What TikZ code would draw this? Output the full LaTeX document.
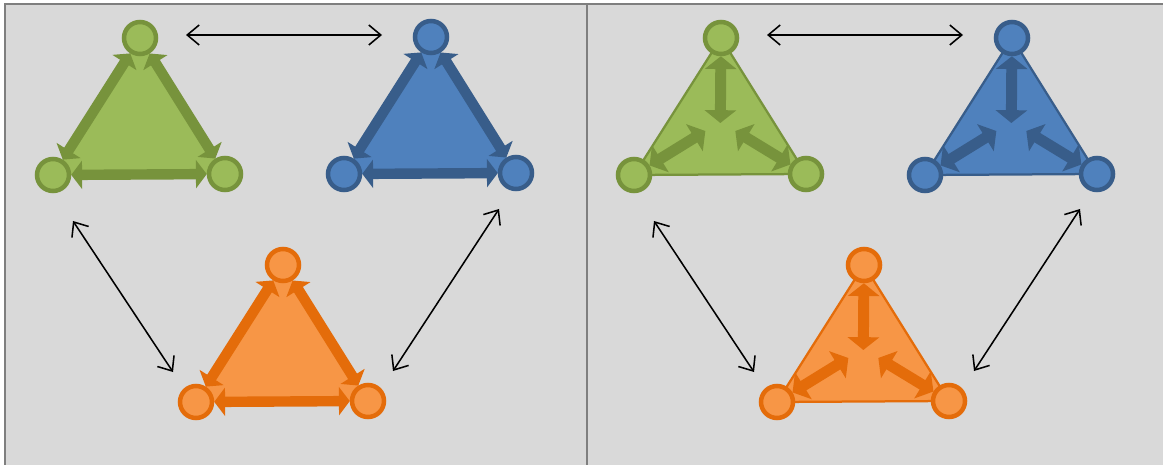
\documentclass[tikz,border=0pt]{standalone}
\usepackage{xcolor}
\usepackage{tikz}
\usetikzlibrary{calc,arrows.meta,backgrounds}

\definecolor{fillgreen}{HTML}{9BBB59}
\definecolor{linegreen}{HTML}{77933C}
\definecolor{fillblue}{HTML}{4F81BD}
\definecolor{lineblue}{HTML}{385D8A}
\definecolor{fillorange}{HTML}{F79646}
\definecolor{lineorange}{HTML}{E46C0A}
\definecolor{panelfill}{HTML}{D9D9D9}
\definecolor{panelline}{HTML}{7F7F7F}

\begin{document}
\begin{tikzpicture}[x = 0.025cm, y = -0.025cm,
	dot/.style = {circle, draw, line width = 3.2pt, inner sep = 0, minimum size = 0.8cm},
	rim/.style = {line width = 7.4pt, >={Triangle[length = 0.27cm, width = 0.7cm]}, <->},
	spoke/.style = {line width = 7.8pt, >={Triangle[length = 0.32cm, width = 0.78cm]}, <->},
	link/.style = {line width = 1.1pt, >={Straight Barb[length = 0.3cm, width = 0.5cm]}, <->},
	panel/.style = {fill = panelfill, draw = panelline, line width = 1.4pt}]
	\useasboundingbox (0,0) rectangle (1163,465);
	\clip (0,0) rectangle (1163,465);
	\foreach \col/\p/\x/\y in {green/g/140/38, blue/b/431/37, orange/o/283/265, green/G/721/38, blue/B/1012/38, orange/O/864/265} {
		\node[dot, fill = fill\col, draw = line\col] (\p t) at (\x,\y) {};
		\node[dot, fill = fill\col, draw = line\col] (\p l) at (\x-87,\y+137) {};
		\node[dot, fill = fill\col, draw = line\col] (\p r) at (\x+85,\y+136) {};
	}
	\begin{scope}[on background layer]
		\draw[panel] (5,4) rectangle (587,480);
		\draw[panel] (587,4) rectangle (1175,480);
		\foreach \col/\p in {green/g, blue/b, orange/o}
			\fill[fill\col] (\p t.center) -- (\p l.center) -- (\p r.center) -- cycle;
		\foreach \col/\p in {green/G, blue/B, orange/O}
			\filldraw[fill = fill\col, draw = line\col, line width = 1.6pt, line join = round] (\p t.center) -- (\p l.center) -- (\p r.center) -- cycle;
	\end{scope}
	\foreach \col/\p in {green/g, blue/b, orange/o} {
		\draw[rim, line\col] (\p t) -- (\p l);
		\draw[rim, line\col] (\p l) -- (\p r);
		\draw[rim, line\col] (\p r) -- (\p t);
	}
	\foreach \col/\p in {green/G, blue/B, orange/O} {
		\coordinate (\p m) at (barycentric cs:\p t=1,\p l=1,\p r=1);
		\coordinate (\p a) at ($(\p m)+(0,-6)$);
		\coordinate (\p b) at ($(\p m)+(-15,2)$);
		\coordinate (\p c) at ($(\p m)+(15,2)$);
		\draw[spoke, line\col] (\p a) -- (\p t);
		\draw[spoke, line\col] (\p b) -- (\p l);
		\draw[spoke, line\col] (\p c) -- (\p r);
	}
	\foreach \dx/\side in {0/L, 581/R} {
		\coordinate (\side 1) at (186+\dx,35);
		\coordinate (\side 2) at (382+\dx,35);
		\coordinate (\side 3) at (73+\dx,221);
		\coordinate (\side 4) at (173+\dx,372);
		\coordinate (\side 5) at (499+\dx,209);
		\coordinate (\side 6) at (393+\dx,371);
		\draw[link] (\side 1) -- (\side 2);
		\draw[link] (\side 3) -- (\side 4);
		\draw[link] (\side 5) -- (\side 6);
	}
\end{tikzpicture}
\end{document}
